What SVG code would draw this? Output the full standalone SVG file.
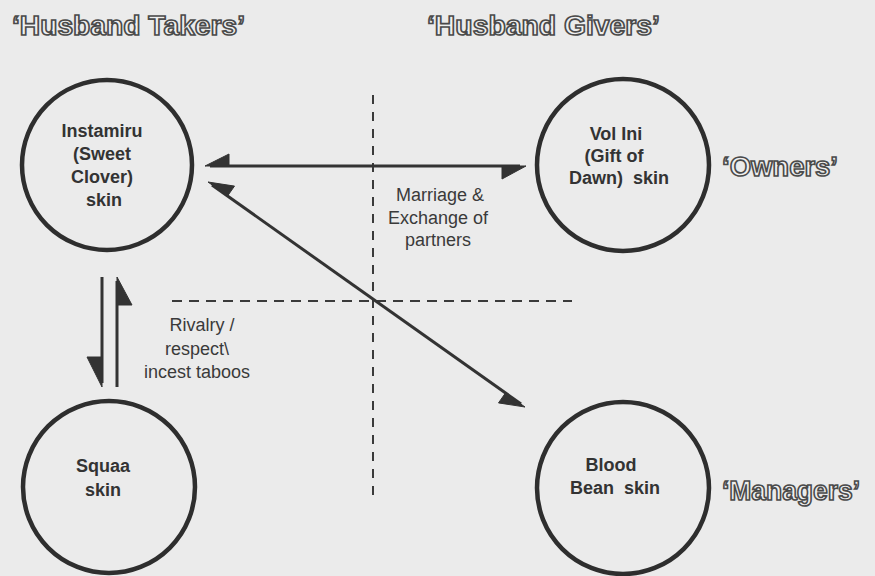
<svg xmlns="http://www.w3.org/2000/svg" width="875" height="576" viewBox="0 0 875 576">
<style>
.title{font-family:"Liberation Sans",Arial,sans-serif;font-weight:bold;font-size:27px;fill:#f0f0f0;stroke:#4a4a4a;stroke-width:1.6px;}
.node circle{fill:none;stroke:#2e2e2e;stroke-width:4.5px;}
.nl{font-family:"Liberation Sans",Arial,sans-serif;font-weight:bold;font-size:18px;fill:#333;text-anchor:middle;white-space:pre;}
.lab{font-family:"Liberation Sans",Arial,sans-serif;font-size:18px;fill:#3a3a3a;text-anchor:middle;}
.ln{stroke:#333;stroke-width:3px;fill:none;}
.hd{fill:#333;stroke:#333;stroke-width:1px;stroke-linejoin:round;}
.dash{stroke:#3a3a3a;stroke-width:2px;fill:none;}
</style>
<rect x="0" y="0" width="875" height="576" fill="#ebebeb"/>

<g id="titles">
<text class="title" x="12" y="35" textLength="233" lengthAdjust="spacingAndGlyphs">‘Husband Takers’</text>
<text class="title" x="427" y="35" textLength="233" lengthAdjust="spacingAndGlyphs">‘Husband Givers’</text>
<text class="title" x="722" y="176" textLength="116" lengthAdjust="spacingAndGlyphs">‘Owners’</text>
<text class="title" x="722" y="500" textLength="138" lengthAdjust="spacingAndGlyphs">‘Managers’</text>
</g>

<g id="dividers">
<line class="dash" x1="373" y1="95" x2="373" y2="502" stroke-dasharray="9,8"/>
<line class="dash" x1="172" y1="301" x2="572" y2="301" stroke-dasharray="10,7"/>
</g>

<g id="node-instamiru" class="node">
<circle cx="107" cy="165" r="85"/>
<text class="nl" x="102" y="137">Instamiru</text>
<text class="nl" x="102" y="160">(Sweet</text>
<text class="nl" x="102" y="183">Clover)</text>
<text class="nl" x="104" y="206">skin</text>
</g>

<g id="node-volini" class="node">
<circle cx="623" cy="165" r="86"/>
<text class="nl" x="616" y="140">Vol Ini</text>
<text class="nl" x="614" y="162">(Gift of</text>
<text class="nl" x="619" y="184">Dawn)  skin</text>
</g>

<g id="node-squaa" class="node">
<circle cx="109" cy="487" r="86"/>
<text class="nl" x="103" y="472">Squaa</text>
<text class="nl" x="103" y="496">skin</text>
</g>

<g id="node-bloodbean" class="node">
<circle cx="623" cy="488" r="86"/>
<text class="nl" x="611" y="471">Blood</text>
<text class="nl" x="615" y="494">Bean  skin</text>
</g>

<g id="connectors">
<line class="ln" x1="210" y1="166" x2="520" y2="166"/>
<polygon class="hd" points="205,166 229,166 229,154"/>
<polygon class="hd" points="526,166 502,166 502,179"/>

<line class="ln" x1="212" y1="185" x2="521" y2="404"/>
<polygon class="hd" points="208,182 227.6,195.9 234.5,186.1"/>
<polygon class="hd" points="525,407 505.4,393.1 498.5,402.9"/>

<line class="ln" x1="102" y1="277" x2="102" y2="383"/>
<polygon class="hd" points="102,387 102,357 87,357"/>
<line class="ln" x1="117" y1="281" x2="117" y2="387"/>
<polygon class="hd" points="117,277 132,305 117,305"/>
</g>

<g id="labels">
<text class="lab" x="440" y="201">Marriage &amp;</text>
<text class="lab" x="438" y="224">Exchange of</text>
<text class="lab" x="438" y="246">partners</text>
<text class="lab" x="202" y="331">Rivalry /</text>
<text class="lab" x="197" y="355">respect\</text>
<text class="lab" x="197" y="378">incest taboos</text>
</g>
</svg>
